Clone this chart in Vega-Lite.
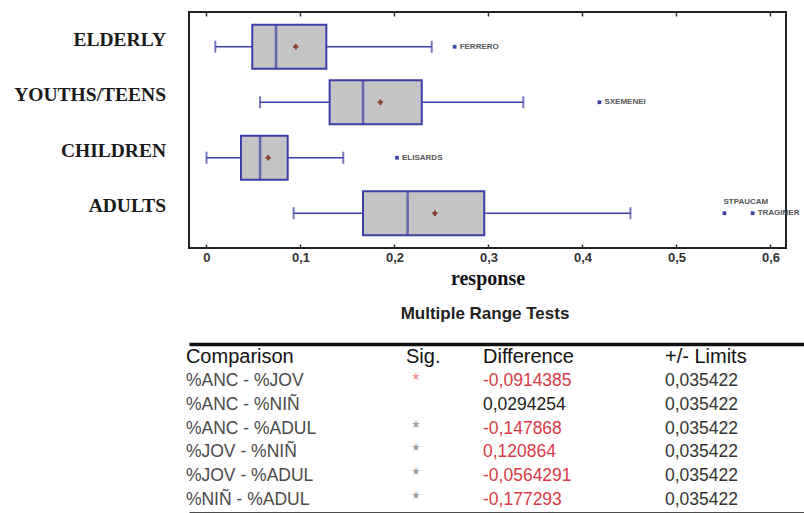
{
  "$schema": "https://vega.github.io/schema/vega-lite/v6.json",
  "background": "white",
  "padding": {"left": 5, "top": 10, "right": 0, "bottom": 0},
  "config": {"view": {"stroke": null}, "font": "Liberation Sans"},
  "spacing": 16,
  "datasets": {
    "boxes": [
      {"group": "ELDERLY", "lo": 0.0094, "q1": 0.0487, "median": 0.074, "q3": 0.1275, "hi": 0.2396, "mean": 0.095},
      {"group": "YOUTHS/TEENS", "lo": 0.057, "q1": 0.131, "median": 0.1665, "q3": 0.229, "hi": 0.337, "mean": 0.185},
      {"group": "CHILDREN", "lo": 0.0, "q1": 0.0367, "median": 0.057, "q3": 0.0864, "hi": 0.1455, "mean": 0.0657},
      {"group": "ADULTS", "lo": 0.0927, "q1": 0.1665, "median": 0.214, "q3": 0.2955, "hi": 0.451, "mean": 0.243}
    ],
    "outliers": [
      {"group": "ELDERLY", "value": 0.264, "name": "FERRERO"},
      {"group": "YOUTHS/TEENS", "value": 0.418, "name": "SXEMENEI"},
      {"group": "CHILDREN", "value": 0.2027, "name": "ELISARDS"},
      {"group": "ADULTS", "value": 0.551, "name": "STPAUCAM"},
      {"group": "ADULTS", "value": 0.581, "name": "TRAGINER"}
    ],
    "table": [
      {"row": 0, "comparison": "Comparison", "sig": "Sig.", "difference": "Difference", "limits": "+/- Limits"},
      {"row": 1, "comparison": "%ANC - %JOV", "sig": "*", "difference": "-0,0914385", "limits": "0,035422"},
      {"row": 2, "comparison": "%ANC - %NIÑ", "sig": "", "difference": "0,0294254", "limits": "0,035422"},
      {"row": 3, "comparison": "%ANC - %ADUL", "sig": "*", "difference": "-0,147868", "limits": "0,035422"},
      {"row": 4, "comparison": "%JOV - %NIÑ", "sig": "*", "difference": "0,120864", "limits": "0,035422"},
      {"row": 5, "comparison": "%JOV - %ADUL", "sig": "*", "difference": "-0,0564291", "limits": "0,035422"},
      {"row": 6, "comparison": "%NIÑ - %ADUL", "sig": "*", "difference": "-0,177293", "limits": "0,035422"}
    ]
  },
  "vconcat": [
    {
      "width": 597,
      "height": 236,
      "view": {"stroke": "#222", "strokeWidth": 2},
      "data": {"name": "boxes"},
      "encoding": {
        "y": {
          "field": "group", "type": "nominal",
          "sort": ["ELDERLY", "YOUTHS/TEENS", "CHILDREN", "ADULTS"],
          "scale": {"type": "band", "paddingInner": 0.207, "paddingOuter": 0.23},
          "axis": {
            "title": null, "domain": false, "ticks": false, "grid": false,
            "labelFont": "Liberation Serif", "labelFontWeight": "bold", "labelFontSize": 19.5,
            "labelColor": "#1a1a1a", "labelPadding": 23.5, "labelOffset": -7,
            "minExtent": 183, "maxExtent": 183
          }
        }
      },
      "layer": [
        {
          "mark": {"type": "rule", "color": "#3d3fa6", "strokeWidth": 1.5},
          "encoding": {
            "x": {
              "field": "lo", "type": "quantitative",
              "scale": {"domain": [-0.0186, 0.6165], "nice": false, "zero": false},
              "axis": {
                "orient": "bottom", "values": [0, 0.1, 0.2, 0.3, 0.4, 0.5, 0.6],
                "labelExpr": "replace(format(datum.value, '~g'), '.', ',')",
                "labelFont": "Liberation Sans", "labelFontWeight": "bold", "labelFontSize": 13,
                "labelColor": "#333", "tickSize": -4, "tickColor": "#333", "tickWidth": 1.5,
                "labelPadding": 7, "domain": false, "grid": false,
                "title": "response", "titleFont": "Liberation Serif", "titleFontSize": 20,
                "titleFontWeight": "bold", "titleColor": "#111", "titlePadding": 4
              }
            },
            "x2": {"field": "hi"}
          }
        },
        {
          "mark": {"type": "tick", "color": "#3d3fa6", "size": 12, "thickness": 2},
          "encoding": {"x": {"field": "lo", "type": "quantitative", "axis": null}}
        },
        {
          "mark": {"type": "tick", "color": "#3d3fa6", "size": 12, "thickness": 2},
          "encoding": {"x": {"field": "hi", "type": "quantitative", "axis": null}}
        },
        {
          "mark": {"type": "bar", "fill": "#c4c4c6", "stroke": "#3d3fa6", "strokeWidth": 2},
          "encoding": {
            "x": {"field": "q1", "type": "quantitative", "axis": null},
            "x2": {"field": "q3"}
          }
        },
        {
          "mark": {"type": "tick", "color": "#3d3fa6", "size": 44, "thickness": 2.5},
          "encoding": {"x": {"field": "median", "type": "quantitative", "axis": null}}
        },
        {
          "mark": {"type": "point", "shape": "cross", "filled": true, "color": "#8a3b2b", "size": 28, "opacity": 1},
          "encoding": {
            "x": {
              "field": "mean", "type": "quantitative",
              "axis": {
                "orient": "top", "values": [0, 0.1, 0.2, 0.3, 0.4, 0.5, 0.6],
                "labels": false, "domain": false, "grid": false, "title": null,
                "tickSize": -4, "tickColor": "#333", "tickWidth": 1.5,
                "minExtent": 0, "maxExtent": 0
              }
            }
          }
        },
        {
          "data": {"name": "outliers"},
          "mark": {"type": "square", "filled": true, "color": "#3d3fa6", "size": 14, "opacity": 1},
          "encoding": {"x": {"field": "value", "type": "quantitative", "axis": null}}
        },
        {
          "data": {"name": "outliers"},
          "transform": [{"filter": "datum.name != 'STPAUCAM'"}],
          "mark": {"type": "text", "align": "left", "baseline": "middle", "dx": 5, "fontSize": 8, "fontWeight": "bold", "color": "#555"},
          "encoding": {
            "x": {"field": "value", "type": "quantitative", "axis": null},
            "text": {"field": "name"}
          }
        },
        {
          "data": {"name": "outliers"},
          "transform": [{"filter": "datum.name == 'STPAUCAM'"}],
          "mark": {"type": "text", "align": "left", "baseline": "middle", "dx": -1, "dy": -11, "fontSize": 8, "fontWeight": "bold", "color": "#555"},
          "encoding": {
            "x": {"field": "value", "type": "quantitative", "axis": null},
            "text": {"field": "name"}
          }
        }
      ],
      "resolve": {"axis": {"x": "independent"}}
    },
    {
      "width": 616,
      "height": 169,
      "title": {
        "text": "Multiple Range Tests", "font": "Liberation Sans", "fontSize": 17,
        "fontWeight": "bold", "color": "#222", "anchor": "middle", "offset": 21, "dx": -12
      },
      "data": {"name": "table"},
      "encoding": {
        "y": {"field": "row", "type": "ordinal", "scale": {"type": "point", "padding": 0.55}, "axis": null}
      },
      "layer": [
        {
          "mark": {"type": "text", "align": "left", "baseline": "middle", "font": "Liberation Sans"},
          "encoding": {
            "x": {
              "datum": -0.005, "type": "quantitative",
              "scale": {"domain": [0, 1], "nice": false, "zero": false},
              "axis": {"orient": "top", "domainWidth": 3.5, "domainColor": "#111", "ticks": false, "labels": false, "grid": false, "title": null}
            },
            "text": {"field": "comparison"},
            "size": {"condition": {"test": "datum.row == 0", "value": 20}, "value": 17.5},
            "color": {"condition": {"test": "datum.row == 0", "value": "#111"}, "value": "#4a4a4a"}
          }
        },
        {
          "transform": [{"filter": "datum.row == 0"}],
          "mark": {"type": "text", "align": "left", "baseline": "middle", "font": "Liberation Sans", "fontSize": 20, "color": "#111"},
          "encoding": {
            "x": {
              "datum": 0.3523, "type": "quantitative",
              "axis": {"orient": "bottom", "domainWidth": 2.5, "domainColor": "#111", "ticks": false, "labels": false, "grid": false, "title": null}
            },
            "text": {"field": "sig"}
          }
        },
        {
          "transform": [{"filter": "datum.row > 0"}],
          "mark": {"type": "text", "align": "center", "baseline": "middle", "font": "Liberation Sans", "fontSize": 17.5},
          "encoding": {
            "x": {"datum": 0.3685, "type": "quantitative", "axis": null},
            "text": {"field": "sig"},
            "color": {"condition": {"test": "datum.row == 1", "value": "#ee7f8c"}, "value": "#8a8a8a"}
          }
        },
        {
          "mark": {"type": "text", "align": "left", "baseline": "middle", "font": "Liberation Sans"},
          "encoding": {
            "x": {"datum": 0.4773, "type": "quantitative", "axis": null},
            "text": {"field": "difference"},
            "size": {"condition": {"test": "datum.row == 0", "value": 20}, "value": 17.5},
            "color": {
              "condition": [
                {"test": "datum.row == 0", "value": "#111"},
                {"test": "datum.sig == '*'", "value": "#d93a48"}
              ],
              "value": "#222"
            }
          }
        },
        {
          "mark": {"type": "text", "align": "left", "baseline": "middle", "font": "Liberation Sans"},
          "encoding": {
            "x": {"datum": 0.7727, "type": "quantitative", "axis": null},
            "text": {"field": "limits"},
            "size": {"condition": {"test": "datum.row == 0", "value": 20}, "value": 17.5},
            "color": {"condition": {"test": "datum.row == 0", "value": "#111"}, "value": "#333"}
          }
        }
      ],
      "resolve": {"axis": {"x": "independent"}}
    }
  ]
}
